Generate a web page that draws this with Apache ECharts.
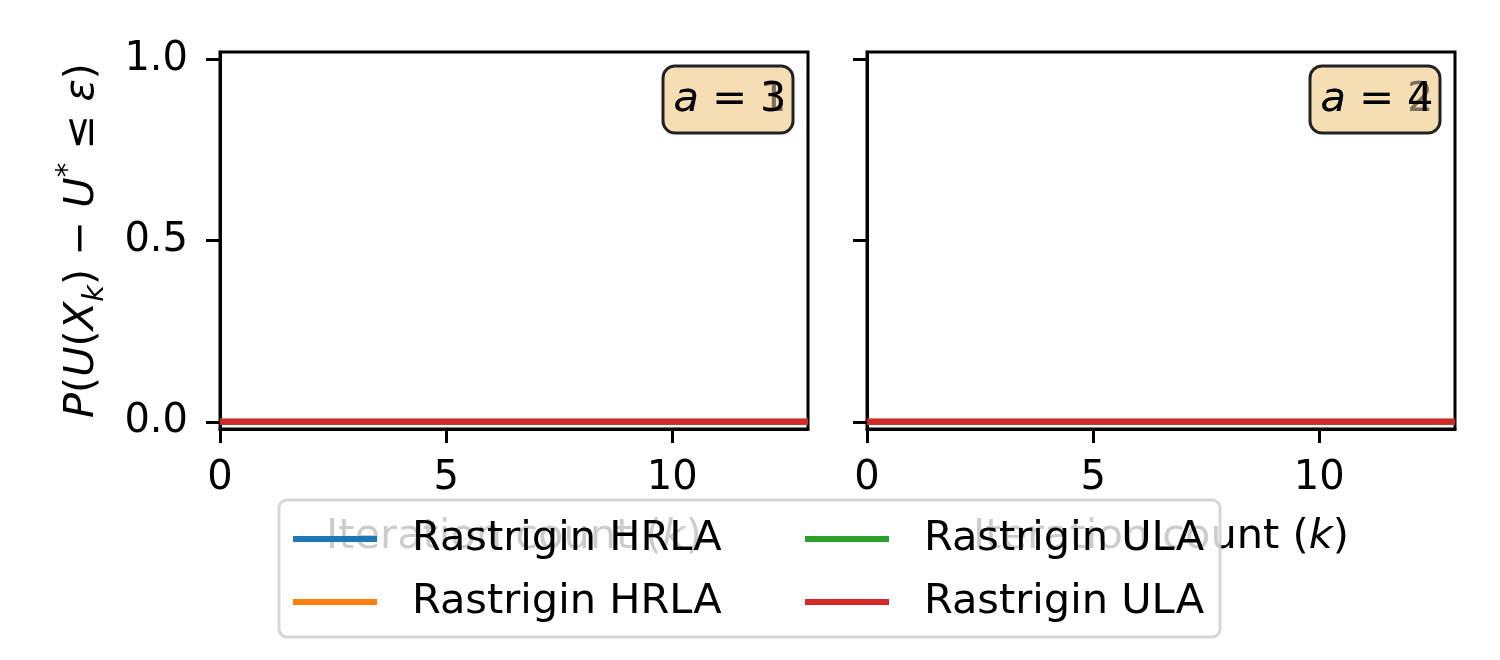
<!DOCTYPE html>
<html>
<head>
<meta charset="utf-8">
<script src="https://cdn.jsdelivr.net/npm/echarts@6/dist/echarts.min.js"></script>
<style>html,body{margin:0;padding:0;background:#fff}#c{width:1500px;height:660px}</style>
</head>
<body>
<div id="c"></div>
<script>
// ---- data ----
const iterations = [0,1,2,3,4,5,6,7,8,9,10,11,12,13];
const panelA = ['3','4'];          // top box labels
const panelAUnder = ['1','2'];     // labels drawn underneath
const seriesLabels = ['Rastrigin HRLA','Rastrigin HRLA','Rastrigin ULA','Rastrigin ULA'];
const seriesColors = ['#1f77b4','#ff7f0e','#2ca02c','#d62728'];
// panel 1 values
const p1_hrla_a = [0,0,0,0,0,0,0,0,0,0,0,0,0,0];
const p1_hrla_b = [0,0,0,0,0,0,0,0,0,0,0,0,0,0];
const p1_ula_a  = [0,0,0,0,0,0,0,0,0,0,0,0,0,0];
const p1_ula_b  = [0,0,0,0,0,0,0,0,0,0,0,0,0,0];
// panel 2 values
const p2_hrla_a = [0,0,0,0,0,0,0,0,0,0,0,0,0,0];
const p2_hrla_b = [0,0,0,0,0,0,0,0,0,0,0,0,0,0];
const p2_ula_a  = [0,0,0,0,0,0,0,0,0,0,0,0,0,0];
const p2_ula_b  = [0,0,0,0,0,0,0,0,0,0,0,0,0,0];
const yTicks = [0, 0.5, 1.0];
const xTicks = [0, 5, 10];

const FONT = 'DejaVu Sans';
const FS = 40;
const LFS = 41.5;
const chart = echarts.init(document.getElementById('c'), null, {renderer:'canvas'});

const panels = [[p1_hrla_a,p1_hrla_b,p1_ula_a,p1_ula_b],[p2_hrla_a,p2_hrla_b,p2_ula_a,p2_ula_b]];
const ids = ['s0','s1','s2','s3'];

const series = [];
panels.forEach((vals, pi) => {
  vals.forEach((v, si) => {
    series.push({
      type:'line', name: ids[si], xAxisIndex: pi, yAxisIndex: pi,
      data: iterations.map((x,i)=>[x, v[i]]),
      showSymbol:false, symbol:'none', silent:true, animation:false,
      lineStyle:{color:seriesColors[si], width:6},
      itemStyle:{color:seriesColors[si]},
      z: 2 + si
    });
  });
});

function xAxis(gi){
  return {
    type:'value', gridIndex: gi, min:0, max:13,
    name:'Iteration count ({i|k})', nameLocation:'middle', nameGap: 87,
    nameTextStyle:{fontFamily:FONT, fontSize:LFS, color:'#000', rich:{i:{fontStyle:'italic', fontFamily:FONT, fontSize:LFS}}},
    axisLine:{show:true, onZero:false, lineStyle:{color:'#000', width:3}},
    axisTick:{show:true, length:14, lineStyle:{color:'#000', width:3}, customValues: xTicks},
    axisLabel:{color:'#000', fontFamily:FONT, fontSize:FS, margin:30, customValues: xTicks},
    splitLine:{show:false}
  };
}
function yAxis(gi){
  const o = {
    type:'value', gridIndex: gi, min:-0.02, max:1.02,
    axisLine:{show:true, onZero:false, lineStyle:{color:'#000', width:3}},
    axisTick:{show:true, length:14, lineStyle:{color:'#000', width:3}, customValues: yTicks},
    axisLabel:{show: gi===0, color:'#000', fontFamily:FONT, fontSize:FS, margin:32,
      customValues: yTicks, formatter: v => v.toFixed(1)},
    splitLine:{show:false}
  };
  if (gi===0){
    o.name = '{i|P}({i|U}({i|X}{sub|k}) − {i|U}{sup|*} ≤ {i|ε})';
    o.nameLocation = 'middle';
    o.nameRotate = 90;
    o.nameGap = 110;
    const base = {fontFamily:FONT, fontSize:LFS, color:'#000', lineHeight:56};
    o.nameTextStyle = Object.assign({}, base, {rich:{
      i: Object.assign({}, base, {fontStyle:'italic'}),
      sub: Object.assign({}, base, {fontStyle:'italic', fontSize:29, verticalAlign:'bottom', lineHeight:56, padding:[14,0,0,0]}),
      sup: Object.assign({}, base, {fontSize:29, verticalAlign:'top', lineHeight:56, padding:[0,0,14,0]})
    }});
  }
  return o;
}

function annot(cx, top, label, under){
  return [
    {type:'rect', z:10, shape:{x:cx-65, y:top, width:130, height:67, r:12},
     style:{fill:'#f5deb3', stroke:'#222', lineWidth:3}},
    {type:'text', z:11, x:cx+2, y:top+34, style:{text:'{i|a} = '+under, rich:{i:{fontStyle:'italic', fontFamily:FONT, fontSize:LFS, fill:'#7a6f5a'}},
      fontFamily:FONT, fontSize:LFS, fill:'#7a6f5a', align:'center', verticalAlign:'middle'}},
    {type:'text', z:12, x:cx+2, y:top+34, style:{text:'{i|a} = '+label, rich:{i:{fontStyle:'italic', fontFamily:FONT, fontSize:LFS, fill:'#000'}},
      fontFamily:FONT, fontSize:LFS, fill:'#000', align:'center', verticalAlign:'middle'}}
  ];
}

function legend(left, names){
  return {
    orient:'vertical', left:left, top:515, padding:0, itemGap:15,
    itemWidth:84, itemHeight:6, icon:'rect', z:30,
    data:names,
    formatter: n => seriesLabels[ids.indexOf(n)],
    textStyle:{fontFamily:FONT, fontSize:LFS, color:'#000', lineHeight:48, padding:[0,0,0,30]},
    selectedMode:false
  };
}

chart.setOption({
  backgroundColor:'#fff',
  animation:false,
  grid:[
    {left:220, top:52, width:588, height:377, show:true, borderColor:'#000', borderWidth:3, backgroundColor:'transparent'},
    {left:867, top:52, width:588, height:377, show:true, borderColor:'#000', borderWidth:3, backgroundColor:'transparent'}
  ],
  xAxis:[xAxis(0), xAxis(1)],
  yAxis:[yAxis(0), yAxis(1)],
  legend:[legend(293, ['s0','s1']), legend(805, ['s2','s3'])],
  graphic:[
    {type:'rect', z:25, shape:{x:279, y:500, width:941, height:137, r:8},
     style:{fill:'rgba(255,255,255,0.8)', stroke:'rgba(204,204,204,0.8)', lineWidth:3}},
    ...annot(728, 66, panelA[0], panelAUnder[0]),
    ...annot(1375, 66, panelA[1], panelAUnder[1])
  ],
  series: series
});
</script>
</body>
</html>
